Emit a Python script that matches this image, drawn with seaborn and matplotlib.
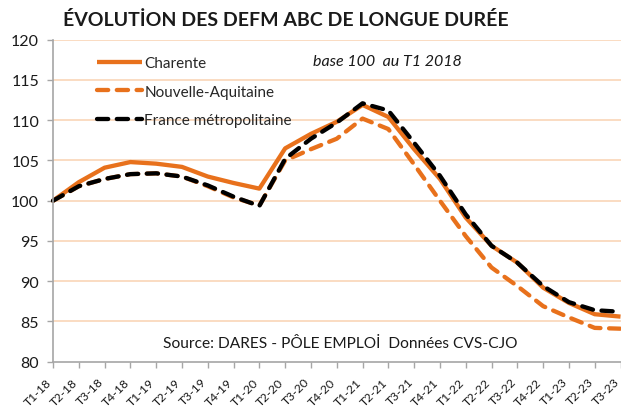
import numpy as np
import pandas as pd
import matplotlib
matplotlib.use('Agg')
import matplotlib.pyplot as plt
import matplotlib.transforms as mtransforms
import seaborn as sns

# Quarters T1-18 .. T3-23
trimestres = ['T1-18', 'T2-18', 'T3-18', 'T4-18',
              'T1-19', 'T2-19', 'T3-19', 'T4-19',
              'T1-20', 'T2-20', 'T3-20', 'T4-20',
              'T1-21', 'T2-21', 'T3-21', 'T4-21',
              'T1-22', 'T2-22', 'T3-22', 'T4-22',
              'T1-23', 'T2-23', 'T3-23']

# Index base 100 au T1 2018
charente = [100, 102.3, 104.1, 104.8, 104.6, 104.2, 103.0, 102.2, 101.5, 106.5, 108.3, 109.8,
            111.9, 110.4, 106.4, 102.7, 97.9, 94.4, 92.3, 89.2, 87.3, 85.9, 85.6]
nouvelle_aquitaine = [100, 101.8, 102.7, 103.3, 103.4, 103.0, 101.8, 100.4, 99.4, 105.0, 106.4, 107.7,
                      110.2, 108.9, 104.5, 100.0, 95.6, 91.7, 89.4, 86.9, 85.5, 84.2, 84.1]
france_metro = [100, 101.8, 102.7, 103.3, 103.4, 103.0, 101.9, 100.5, 99.35, 105.2, 107.7, 109.7,
                112.1, 111.2, 107.2, 103.1, 98.3, 94.4, 92.3, 89.4, 87.4, 86.4, 86.2]

series = ['Charente', 'Nouvelle-Aquitaine', 'France métropolitaine']
y_ticks = [80, 85, 90, 95, 100, 105, 110, 115, 120]

df = pd.DataFrame({
    'trimestre': trimestres * 3,
    'indice': charente + nouvelle_aquitaine + france_metro,
    'serie': np.repeat(series, len(trimestres)),
})
df['trimestre'] = pd.Categorical(df['trimestre'], categories=trimestres, ordered=True)

orange = '#E8711C'
palette = {'Charente': orange, 'Nouvelle-Aquitaine': orange, 'France métropolitaine': 'black'}
dashes = {'Charente': '', 'Nouvelle-Aquitaine': (2.6, 2.0), 'France métropolitaine': (2.6, 2.0)}

sns.set_style('white')
plt.rcParams['font.family'] = ['Lato', 'DejaVu Sans']

fig = plt.figure(figsize=(6.21, 4.14), dpi=100)
ax = fig.add_axes([53 / 621, 1 - 362.7 / 414, (620.5 - 53) / 621, (362.7 - 40.7) / 414])

df['x'] = df['trimestre'].cat.codes
sns.lineplot(data=df, x='x', y='indice', hue='serie', style='serie',
             palette=palette, dashes=dashes, hue_order=series, style_order=series,
             linewidth=3.1, legend=False, ax=ax, sort=False, clip_on=False)
for ln in ax.lines:
    ln.set_dash_capstyle('round')
    ln.set_solid_capstyle('butt')

ax.set_xlim(0, 22)
ax.set_ylim(80, 120)
ax.set_yticks(y_ticks)
ax.set_yticklabels([str(v) for v in y_ticks], fontsize=11.5, color='#1a1a1a')
ax.set_xticks(range(len(trimestres)))
ax.set_xticklabels(trimestres, rotation=45, ha='right', va='center', rotation_mode='anchor',
                   fontsize=8.8, color='#1a1a1a')
ax.tick_params(axis='both', which='both', length=4, width=1, color='#A6A6A6',
               direction='out', left=True, bottom=True)
ax.tick_params(axis='x', pad=9)
ax.tick_params(axis='y', pad=6)
ax.set_xlabel('')
ax.set_ylabel('')

# nudge x tick labels slightly left so the last one stays in the picture
shift = mtransforms.ScaledTranslation(-3 / 100, 0, fig.dpi_scale_trans)
for lab in ax.get_xticklabels():
    lab.set_transform(lab.get_transform() + shift)

ax.grid(False)
for v in y_ticks[1:]:
    ax.axhline(v, color='#FAD6B8', linewidth=1.2, zorder=0)
for side in ['top', 'right']:
    ax.spines[side].set_visible(False)
for side in ['left', 'bottom']:
    ax.spines[side].set_color('#A6A6A6')
    ax.spines[side].set_linewidth(1.2)
ax.patch.set_alpha(0)

leg = ax.legend(ax.lines[:3], series, loc='upper left',
                bbox_to_anchor=(97 / 621, 1 - 57 / 414), bbox_transform=fig.transFigure,
                frameon=False, fontsize=11, handlelength=2.95, handletextpad=0.15,
                labelspacing=0.95, borderpad=0, borderaxespad=0)
for line in leg.get_lines():
    line.set_dash_capstyle('round')

fig.text(63 / 621, 1 - 20 / 414, 'ÉVOLUTİON DES DEFM ABC DE LONGUE DURÉE',
         fontsize=14, fontweight='bold', ha='left', va='center', color='#1a1a1a')
fig.text(313 / 621, 1 - 62 / 414, 'base 100  au T1 2018', fontsize=11.5,
         style='italic', ha='left', va='center', color='#1a1a1a')
fig.text(340 / 621, 1 - 344 / 414, 'Source: DARES - PÔLE EMPLOİ  Données CVS-CJO',
         fontsize=11.2, ha='center', va='center', color='#1a1a1a')

fig.savefig('out.png', dpi=100)
